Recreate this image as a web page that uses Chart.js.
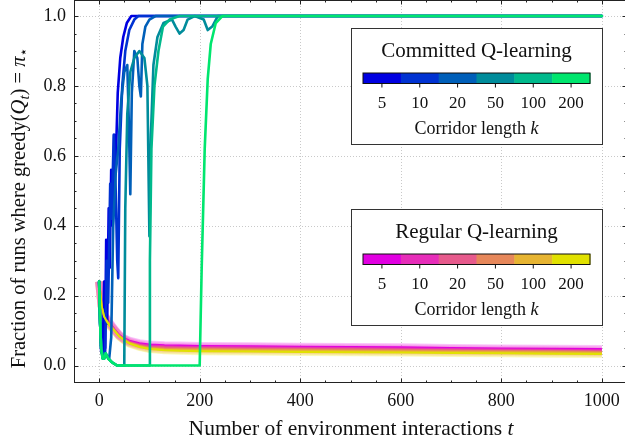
<!DOCTYPE html>
<html>
<head>
<meta charset="utf-8">
<script src="https://cdn.jsdelivr.net/npm/chart.js@4.4.1/dist/chart.umd.min.js"></script>
<style>
html, body { margin: 0; padding: 0; background: #fff; overflow: hidden; }
#wrap { width: 625px; height: 442px; overflow: hidden; }
</style>
</head>
<body>
<div id="wrap"><canvas id="chart" width="628" height="442"></canvas></div>
<script>
// corridor lengths (same for both methods)
const corridorLengths = ["5", "10", "20", "50", "100", "200"];

// committed Q-learning, one [t, fraction] list per corridor length
const committed5 = [[0, 0.24], [2, 0.12], [4, 0.04], [7, 0.03], [10, 0.24], [12, 0.05], [14, 0.36], [16, 0.12], [19, 0.45], [21, 0.28], [24, 0.56], [27, 0.40], [30, 0.66], [33, 0.58], [37, 0.78], [42, 0.88], [48, 0.94], [55, 0.98], [64, 1.0], [1000, 1.0]];
const committed10 = [[0, 0.24], [2, 0.12], [4, 0.05], [8, 0.03], [12, 0.04], [15, 0.30], [18, 0.18], [22, 0.52], [25, 0.42], [29, 0.66], [33, 0.50], [36, 0.30], [38, 0.25], [41, 0.62], [46, 0.80], [52, 0.90], [60, 0.96], [70, 0.99], [78, 1.0], [1000, 1.0]];
const committed20 = [[0, 0.24], [2, 0.12], [4, 0.05], [8, 0.02], [14, 0.03], [20, 0.02], [24, 0.08], [28, 0.40], [33, 0.55], [38, 0.62], [44, 0.76], [50, 0.84], [56, 0.86], [59, 0.70], [62, 0.49], [65, 0.78], [70, 0.90], [76, 0.88], [80, 0.80], [83, 0.77], [86, 0.92], [92, 0.97], [100, 0.99], [112, 1.0], [1000, 1.0]];
const committed50 = [[0, 0.24], [2, 0.12], [4, 0.05], [7, 0.02], [10, 0.02], [13, 0.035], [18, 0.02], [25, 0.01], [36, 0.0], [50, 0.0], [52, 0.45], [56, 0.72], [62, 0.84], [70, 0.88], [80, 0.90], [90, 0.88], [96, 0.80], [100, 0.37], [103, 0.66], [108, 0.86], [116, 0.94], [128, 0.98], [145, 0.99], [152, 0.97], [160, 0.95], [168, 0.96], [176, 0.99], [190, 1.0], [208, 0.99], [216, 0.96], [225, 0.97], [236, 1.0], [1000, 1.0]];
const committed100 = [[0, 0.24], [2, 0.12], [4, 0.05], [7, 0.02], [10, 0.02], [13, 0.035], [18, 0.02], [25, 0.01], [36, 0.0], [100, 0.0], [101, 0.30], [104, 0.62], [110, 0.80], [118, 0.90], [127, 0.97], [140, 0.99], [160, 1.0], [1000, 1.0]];
const committed200 = [[0, 0.24], [2, 0.12], [4, 0.05], [7, 0.02], [10, 0.02], [13, 0.035], [18, 0.02], [25, 0.01], [36, 0.0], [200, 0.0], [204, 0.28], [210, 0.62], [216, 0.82], [222, 0.92], [232, 0.98], [245, 1.0], [1000, 1.0]];

// regular Q-learning, sampled at these interaction counts
const regularSteps = [0, 5, 10, 15, 20, 30, 40, 50, 60, 80, 100, 130, 160, 200, 300, 400, 500, 600, 700, 800, 900, 1000];
const regular5 = [0.24, 0.17, 0.145, 0.135, 0.125, 0.105, 0.088, 0.078, 0.071, 0.064, 0.060, 0.058, 0.057, 0.056, 0.055, 0.054, 0.053, 0.052, 0.050, 0.049, 0.048, 0.047];
const regular10 = [0.24, 0.17, 0.144, 0.134, 0.123, 0.104, 0.087, 0.076, 0.069, 0.061, 0.057, 0.055, 0.054, 0.053, 0.052, 0.051, 0.050, 0.049, 0.047, 0.046, 0.045, 0.044];
const regular20 = [0.24, 0.17, 0.143, 0.133, 0.121, 0.103, 0.086, 0.075, 0.067, 0.059, 0.054, 0.052, 0.051, 0.050, 0.049, 0.048, 0.047, 0.046, 0.044, 0.043, 0.042, 0.041];
const regular50 = [0.24, 0.17, 0.142, 0.131, 0.119, 0.102, 0.085, 0.074, 0.066, 0.057, 0.051, 0.049, 0.048, 0.047, 0.046, 0.045, 0.044, 0.043, 0.042, 0.041, 0.040, 0.039];
const regular100 = [0.24, 0.17, 0.141, 0.129, 0.117, 0.101, 0.084, 0.073, 0.064, 0.055, 0.049, 0.046, 0.045, 0.044, 0.043, 0.042, 0.041, 0.040, 0.039, 0.038, 0.037, 0.036];
const regular200 = [0.24, 0.17, 0.140, 0.127, 0.115, 0.100, 0.083, 0.072, 0.063, 0.053, 0.047, 0.044, 0.042, 0.041, 0.040, 0.039, 0.038, 0.037, 0.036, 0.035, 0.034, 0.033];

// tick labels
const xTicks = [0, 200, 400, 600, 800, 1000];
const yTicks = [0.0, 0.2, 0.4, 0.6, 0.8, 1.0];

const committedColors = ["rgb(0,0,225)", "rgb(0,50,210)", "rgb(0,95,185)", "rgb(0,140,155)", "rgb(0,185,140)", "rgb(0,230,110)"];
const regularColors = ["rgb(225,0,225)", "rgb(230,45,185)", "rgb(230,90,140)", "rgb(230,135,90)", "rgb(230,180,50)", "rgb(225,225,0)"];
const regularBands = ["rgba(240,60,240,0.30)", "rgba(240,90,200,0.25)", "rgba(240,120,160,0.22)", "rgba(240,150,110,0.22)", "rgba(240,190,70,0.25)", "rgba(240,235,40,0.30)"];

const serif = "'Liberation Serif', 'DejaVu Serif', serif";

const committedRuns = [committed5, committed10, committed20, committed50, committed100, committed200];
const regularRuns = [regular5, regular10, regular20, regular50, regular100, regular200];

function points(pairs) {
    return pairs.map(p => ({ x: p[0], y: p[1] }));
}
function sampled(values) {
    return values.map((v, i) => ({ x: regularSteps[i], y: v }));
}

const datasets = [];
regularRuns.forEach((run, i) => {
    datasets.push({
        data: sampled(run), borderColor: regularBands[i], borderWidth: 8,
        pointRadius: 0, tension: 0, order: 20 + i
    });
});
regularRuns.forEach((run, i) => {
    datasets.push({
        data: sampled(run), borderColor: regularColors[i], borderWidth: 2,
        pointRadius: 0, tension: 0, order: 10 - i
    });
});
committedRuns.forEach((run, i) => {
    datasets.push({
        data: points(run), borderColor: committedColors[i], borderWidth: 2.6,
        borderJoinStyle: "round", borderCapStyle: "round",
        pointRadius: 0, tension: 0, order: 6 - i
    });
});

// draw a sequence of text pieces with different fonts, centred on 0
function drawPieces(ctx, pieces) {
    ctx.textAlign = "left";
    let total = 0;
    pieces.forEach(p => { ctx.font = p.font; p.w = ctx.measureText(p.text).width; total += p.w; });
    let x = -total / 2;
    pieces.forEach(p => {
        ctx.font = p.font;
        ctx.fillText(p.text, x, p.dy || 0);
        x += p.w;
    });
}

function drawColorbar(ctx, bx, by, title, colors) {
    const w = 251, h = 116;
    ctx.save();
    ctx.fillStyle = "#fff";
    ctx.fillRect(bx, by, w, h);
    ctx.strokeStyle = "#333";
    ctx.lineWidth = 1;
    ctx.strokeRect(bx + 0.5, by + 0.5, w, h);

    ctx.fillStyle = "#111";
    ctx.textAlign = "center";
    ctx.textBaseline = "middle";
    ctx.font = "21px " + serif;
    ctx.fillText(title, bx + w / 2, by + 23);

    const x0 = bx + 12, x1 = bx + 239, y0 = by + 45, bh = 10.5;
    const seg = (x1 - x0) / colors.length;
    colors.forEach((c, i) => {
        ctx.fillStyle = c;
        ctx.fillRect(x0 + i * seg, y0, seg + 0.5, bh);
    });
    ctx.strokeStyle = "#111";
    ctx.strokeRect(x0, y0, x1 - x0, bh);

    ctx.fillStyle = "#111";
    ctx.font = "17px " + serif;
    corridorLengths.forEach((lab, i) => {
        const cx = x0 + (i + 0.5) * seg;
        ctx.beginPath();
        ctx.moveTo(cx, y0 + bh);
        ctx.lineTo(cx, y0 + bh + 4);
        ctx.stroke();
        ctx.fillText(lab, cx, by + 76);
    });

    ctx.translate(bx + w / 2, by + 101);
    drawPieces(ctx, [
        { text: "Corridor length ", font: "18px " + serif },
        { text: "k", font: "italic 18px " + serif }
    ]);
    ctx.restore();
}

const decorations = {
    id: "decorations",
    beforeDatasetsDraw(chart) {
        const { ctx, chartArea: a, scales: { x, y } } = chart;
        ctx.save();
        ctx.strokeStyle = "rgba(170,170,170,0.8)";
        ctx.lineWidth = 0.8;
        ctx.setLineDash([1, 2]);
        xTicks.forEach(v => {
            const px = Math.round(x.getPixelForValue(v)) + 0.5;
            ctx.beginPath(); ctx.moveTo(px, a.top); ctx.lineTo(px, a.bottom); ctx.stroke();
        });
        yTicks.forEach(v => {
            const py = Math.round(y.getPixelForValue(v)) + 0.5;
            ctx.beginPath(); ctx.moveTo(a.left, py); ctx.lineTo(a.right, py); ctx.stroke();
        });
        ctx.restore();
    },
    afterDatasetsDraw(chart) {
        const { ctx, chartArea: a, scales: { x, y } } = chart;
        ctx.save();
        ctx.strokeStyle = "#222";
        ctx.lineWidth = 1;
        ctx.strokeRect(Math.round(a.left) + 0.5, Math.round(a.top) + 0.5, Math.round(a.right - a.left), Math.round(a.bottom - a.top) - 1);
        const tick = (px, py, dx, dy) => {
            ctx.beginPath(); ctx.moveTo(px, py); ctx.lineTo(px + dx, py + dy); ctx.stroke();
        };
        for (let v = 0; v <= 1000; v += 50) {
            const px = Math.round(x.getPixelForValue(v)) + 0.5;
            const len = v % 200 === 0 ? 4.5 : 2.5;
            tick(px, a.bottom, 0, -len);
            tick(px, a.top, 0, len);
        }
        for (let i = 0; i <= 20; i++) {
            const v = i * 0.05;
            const py = Math.round(y.getPixelForValue(v)) + 0.5;
            const len = i % 4 === 0 ? 4.5 : 2.5;
            tick(a.left, py, len, 0);
            tick(a.right, py, -len, 0);
        }
        ctx.restore();

        drawColorbar(ctx, 351, 28, "Committed Q-learning", committedColors);
        drawColorbar(ctx, 351, 209, "Regular Q-learning", regularColors);

        // axis titles
        ctx.save();
        ctx.fillStyle = "#111";
        ctx.textBaseline = "alphabetic";
        ctx.translate((a.left + a.right) / 2 + 0.5, 435);
        drawPieces(ctx, [
            { text: "Number of environment interactions ", font: "21.5px " + serif },
            { text: "t", font: "italic 21.5px " + serif }
        ]);
        ctx.restore();

        ctx.save();
        ctx.fillStyle = "#111";
        ctx.textBaseline = "alphabetic";
        ctx.translate(25, 208);
        ctx.rotate(-Math.PI / 2);
        drawPieces(ctx, [
            { text: "Fraction of runs where greedy(", font: "20.5px " + serif },
            { text: "Q", font: "italic 20.5px " + serif },
            { text: "t", font: "italic 15px " + serif, dy: 4 },
            { text: ") = ", font: "20.5px " + serif },
            { text: "π", font: "italic 20.5px " + serif },
            { text: "⋆", font: "14px 'DejaVu Sans'", dy: 3 }
        ]);
        ctx.restore();
    }
};

new Chart(document.getElementById("chart").getContext("2d"), {
    type: "line",
    data: { datasets: datasets },
    options: {
        responsive: false,
        animation: false,
        devicePixelRatio: 1,
        layout: { padding: { left: 0, right: 1, top: 0, bottom: 0 } },
        plugins: { legend: { display: false }, tooltip: { enabled: false } },
        scales: {
            x: {
                type: "linear", min: -50, max: 1050,
                grid: { display: false, drawTicks: false },
                border: { display: false },
                ticks: { color: "#111", font: { family: serif, size: 18 }, padding: 7, maxRotation: 0, callback: v => String(v) },
                afterBuildTicks: s => { s.ticks = xTicks.map(v => ({ value: v })); },
                afterFit: s => { s.height = 59; s.paddingLeft = 0; s.paddingRight = 0; }
            },
            y: {
                type: "linear", min: -0.05, max: 1.046,
                grid: { display: false, drawTicks: false },
                border: { display: false },
                ticks: { color: "#111", font: { family: serif, size: 18 }, padding: 8, callback: v => v.toFixed(1) },
                afterBuildTicks: s => { s.ticks = yTicks.map(v => ({ value: v })); },
                afterFit: s => { s.width = 74; s.paddingTop = 0; s.paddingBottom = 0; }
            }
        }
    },
    plugins: [decorations]
});
</script>
</body>
</html>
